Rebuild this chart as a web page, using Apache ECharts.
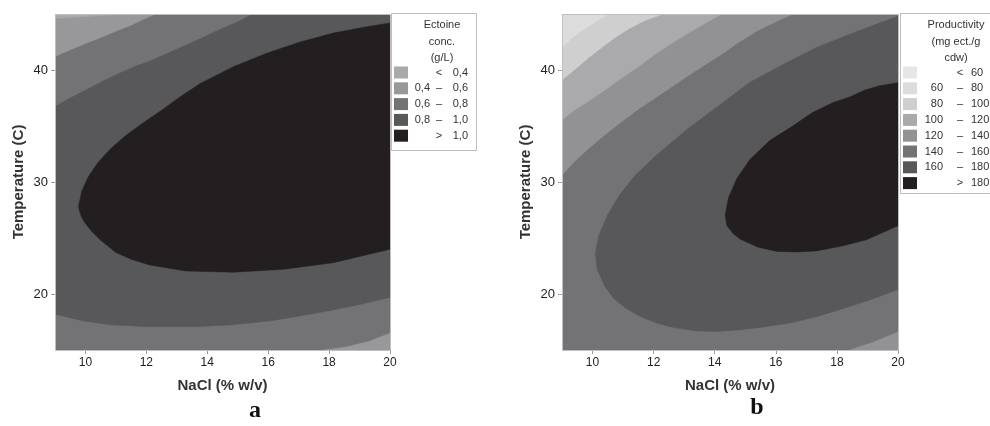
<!DOCTYPE html>
<html>
<head>
<meta charset="utf-8">
<script src="https://cdn.jsdelivr.net/npm/echarts@6/dist/echarts.min.js"></script>
<style>
  html, body { margin: 0; padding: 0; background: #fff; }
  #main { width: 990px; height: 426px; }
</style>
</head>
<body>
<div id="main"></div>
<script>
// axes
var xMin = 9, xMax = 20, yMin = 15, yMax = 45;
var xTicks = [10, 12, 14, 16, 18, 20];
var yTicks = [20, 30, 40];

// panel a : Ectoine conc. (g/L)
var ectTitle = ['Ectoine', 'conc.', '(g/L)'];
var ectLow = ['', '0,4', '0,6', '0,8', ''];
var ectSym = ['<', '–', '–', '–', '>'];
var ectHigh = ['0,4', '0,6', '0,8', '1,0', '1,0'];
var ectColors = ['#a9a9ab', '#98989a', '#737375', '#58585a', '#231f20'];

// contour regions, [NaCl, Temperature]
var ectFull = [[9, 15], [20, 15], [20, 45], [9, 45]];
var ectTopLeft = [[9, 45], [9, 41.2], [9.5, 41.8], [9.94, 42.3], [10.5, 42.9], [11.03, 43.5], [11.5, 44.0], [11.8, 44.4], [12.3, 45]];
var ectSliver = [[9, 45], [9, 44.6], [10.2, 44.8], [11.2, 45]];
var ectBottomRight = [[17.85, 15], [18.6, 15.3], [19.3, 15.75], [20, 16.5], [20, 15]];
var ectBand08 = [[9, 18.2], [9, 36.75], [9.5, 37.5], [9.94, 38.1], [10.5, 38.9], [11.03, 39.6], [11.6, 40.3], [12.12, 40.8],
  [12.7, 41.5], [13.2, 42.1], [13.77, 42.8], [14.4, 43.6], [15.0, 44.3], [15.5, 45], [20, 45], [20, 19.7],
  [18.9, 19.0], [17.7, 18.35], [16.06, 17.6], [14.8, 17.25], [13.77, 17.1], [11.9, 17.1], [10.8, 17.25], [9.94, 17.6]];
var ectCore = [[20, 44.2], [19.1, 43.8], [18.14, 43.3], [17.05, 42.5], [15.95, 41.5], [14.86, 40.3], [13.77, 38.8],
  [13.1, 37.6], [12.5, 36.4], [11.9, 35.3], [11.3, 34.1], [10.8, 32.9], [10.4, 31.7], [10.1, 30.5], [9.88, 29.2],
  [9.77, 27.8], [9.85, 27.0], [9.97, 26.4], [10.2, 25.6], [10.5, 24.8], [11.0, 23.7], [11.5, 23.1], [12.1, 22.6],
  [13.3, 22.05], [14.86, 21.95], [16.5, 22.2], [18.14, 22.8], [20, 24.0]];

// panel b : Productivity (mg ect./g cdw)
var prodTitle = ['Productivity', '(mg ect./g', 'cdw)'];
var prodLow = ['', '60', '80', '100', '120', '140', '160', ''];
var prodSym = ['<', '–', '–', '–', '–', '–', '–', '>'];
var prodHigh = ['60', '80', '100', '120', '140', '160', '180', '180'];
var prodColors = ['#e6e6e7', '#dcdcdd', '#cfcfd0', '#aaaaac', '#929294', '#737375', '#58585a', '#231f20'];

var prodFull = [[9, 15], [20, 15], [20, 45], [9, 45]];
var prod120 = [[9, 45], [9, 30.6], [9.4, 31.8], [9.87, 33.0], [10.4, 34.2], [10.96, 35.4], [11.5, 36.5], [12.05, 37.5],
  [12.6, 38.5], [13.14, 39.5], [13.7, 40.5], [14.23, 41.4], [14.8, 42.5], [15.4, 43.5], [16.0, 44.3], [16.57, 45]];
var prod100 = [[9, 45], [9, 35.55], [9.4, 36.4], [9.87, 37.2], [10.4, 38.2], [10.96, 39.3], [11.5, 40.3], [12.05, 41.4],
  [12.6, 42.4], [13.14, 43.3], [13.7, 44.2], [14.23, 45]];
var prod80 = [[9, 45], [9, 39.1], [9.4, 40.0], [9.87, 41.1], [10.3, 42.0], [10.74, 42.9], [11.2, 43.7], [11.7, 44.4], [12.3, 45]];
var prod60 = [[9, 45], [9, 42.0], [9.3, 42.8], [9.65, 43.5], [10.1, 44.3], [10.52, 45]];
var prodBottomRight = [[18.42, 15], [19.18, 15.7], [20, 16.6], [20, 15]];
var prod160 = [[20, 44.8], [19.2, 44.0], [18.42, 43.2], [17.33, 42.0], [16.24, 40.5], [15.15, 38.9], [14.23, 37.0],
  [13.14, 34.8], [12.05, 32.3], [11.4, 30.6], [10.9, 28.9], [10.5, 27.1], [10.2, 25.2], [10.09, 23.6], [10.15, 22.2],
  [10.4, 20.7], [10.69, 19.6], [11.1, 18.7], [11.56, 18.0], [12.1, 17.4], [12.65, 17.0], [13.4, 16.7], [14.1, 16.65],
  [14.83, 16.8], [15.6, 17.05], [16.46, 17.4], [17.3, 17.95], [18.09, 18.6], [19.0, 19.4], [20, 20.4]];
var prod180 = [[20, 38.87], [19.4, 38.6], [18.9, 38.2], [18.42, 37.6], [17.88, 37.1], [17.2, 36.2], [16.5, 34.9],
  [15.8, 33.7], [15.15, 32.0], [14.72, 30.3], [14.45, 28.6], [14.34, 27.0], [14.4, 26.1], [14.6, 25.4], [14.83, 24.9],
  [15.4, 24.2], [16.03, 23.8], [16.7, 23.75], [17.33, 23.85], [18.2, 24.3], [18.97, 24.85], [20, 26.1]];

// layout
var grids = [
  { left: 55, top: 14, width: 335, height: 336 },
  { left: 562, top: 14, width: 336, height: 336 }
];
var tickFont = "'Liberation Sans', Arial, sans-serif";
var nameFont = "'Liberation Sans', Arial, sans-serif";

function region(idx, pts, color) {
  return {
    type: 'custom',
    xAxisIndex: idx,
    yAxisIndex: idx,
    silent: true,
    clip: true,
    data: pts,
    renderItem: function (params, api) {
      if (params.dataIndex !== 0) return null;
      var points = pts.map(function (p) { return api.coord(p); });
      return { type: 'polygon', shape: { points: points }, style: { fill: color, stroke: color, lineWidth: 0.5 } };
    }
  };
}

function makeX(idx) {
  return {
    gridIndex: idx, type: 'value', min: xMin, max: xMax,
    axisLine: { show: false },
    axisTick: { show: true, customValues: xTicks, length: 4, lineStyle: { color: '#9a9a9a' } },
    axisLabel: { customValues: xTicks, margin: 7, color: '#222', fontSize: 12, fontFamily: tickFont },
    splitLine: { show: false },
    name: 'NaCl (% w/v)', nameLocation: 'middle', nameGap: 28,
    nameTextStyle: { color: '#333', fontSize: 15, fontWeight: 'bold', fontFamily: nameFont }
  };
}
function makeY(idx) {
  return {
    gridIndex: idx, type: 'value', min: yMin, max: yMax,
    axisLine: { show: false },
    axisTick: { show: true, customValues: yTicks, length: 4, lineStyle: { color: '#9a9a9a' } },
    axisLabel: { customValues: yTicks, margin: 7, color: '#222', fontSize: 13, fontFamily: tickFont },
    splitLine: { show: false },
    name: 'Temperature (C)', nameLocation: 'middle', nameGap: 29, nameRotate: 90,
    nameTextStyle: { color: '#333', fontSize: 15, fontWeight: 'bold', fontFamily: nameFont }
  };
}

function legendBox(x, y, w, h, cx, title, low, sym, high, colors, lowX, symX, highX, highAlign) {
  var els = [{
    type: 'rect', shape: { x: x + 0.5, y: y + 0.5, width: w, height: h },
    style: { fill: '#fff', stroke: '#bdbdbd', lineWidth: 1 }, z: 10
  }];
  title.forEach(function (t, i) {
    els.push({ type: 'text', x: cx, y: 25 + i * 16.5, z: 11,
      style: { text: t, fill: '#333', font: '11px ' + nameFont, align: 'center', verticalAlign: 'middle' } });
  });
  colors.forEach(function (c, i) {
    var cy = 72.5 + i * 15.8;
    els.push({ type: 'rect', shape: { x: x + 3, y: cy - 6, width: 14, height: 12 }, style: { fill: c }, z: 11 });
    if (low[i]) els.push({ type: 'text', x: lowX, y: cy, z: 11,
      style: { text: low[i], fill: '#333', font: '11px ' + nameFont, align: 'right', verticalAlign: 'middle' } });
    els.push({ type: 'text', x: symX, y: cy, z: 11,
      style: { text: sym[i], fill: '#333', font: '11px ' + nameFont, align: 'center', verticalAlign: 'middle' } });
    els.push({ type: 'text', x: highX, y: cy, z: 11,
      style: { text: high[i], fill: '#333', font: '11px ' + nameFont, align: highAlign, verticalAlign: 'middle' } });
  });
  return els;
}

var graphics = [];
grids.forEach(function (g) {
  graphics.push({ type: 'rect', shape: { x: g.left + 0.5, y: g.top + 0.5, width: g.width, height: g.height },
    style: { fill: null, stroke: '#bfbfbf', lineWidth: 1 }, z: 5 });
});
graphics = graphics.concat(legendBox(391, 13, 85, 137, 442, ectTitle, ectLow, ectSym, ectHigh, ectColors, 430, 439, 468, 'right'));
graphics = graphics.concat(legendBox(900, 13, 100, 180, 956, prodTitle, prodLow, prodSym, prodHigh, prodColors, 943, 960, 971, 'left'));
graphics.push({ type: 'text', x: 255, y: 411, z: 11,
  style: { text: 'a', fill: '#111', font: 'bold 24px "Liberation Serif", "DejaVu Serif", serif', align: 'center', verticalAlign: 'middle' } });
graphics.push({ type: 'text', x: 757, y: 408, z: 11,
  style: { text: 'b', fill: '#111', font: 'bold 24px "Liberation Serif", "DejaVu Serif", serif', align: 'center', verticalAlign: 'middle' } });

var option = {
  backgroundColor: '#fff',
  animation: false,
  grid: grids,
  xAxis: [makeX(0), makeX(1)],
  yAxis: [makeY(0), makeY(1)],
  series: [
    region(0, ectFull, ectColors[2]),
    region(0, ectTopLeft, ectColors[1]),
    region(0, ectSliver, ectColors[0]),
    region(0, ectBottomRight, ectColors[1]),
    region(0, ectBand08, ectColors[3]),
    region(0, ectCore, ectColors[4]),
    region(1, prodFull, prodColors[5]),
    region(1, prod120, prodColors[4]),
    region(1, prod100, prodColors[3]),
    region(1, prod80, prodColors[2]),
    region(1, prod60, prodColors[1]),
    region(1, prodBottomRight, prodColors[4]),
    region(1, prod160, prodColors[6]),
    region(1, prod180, prodColors[7])
  ],
  graphic: graphics
};

var chart = echarts.init(document.getElementById('main'));
chart.setOption(option);
</script>
</body>
</html>
